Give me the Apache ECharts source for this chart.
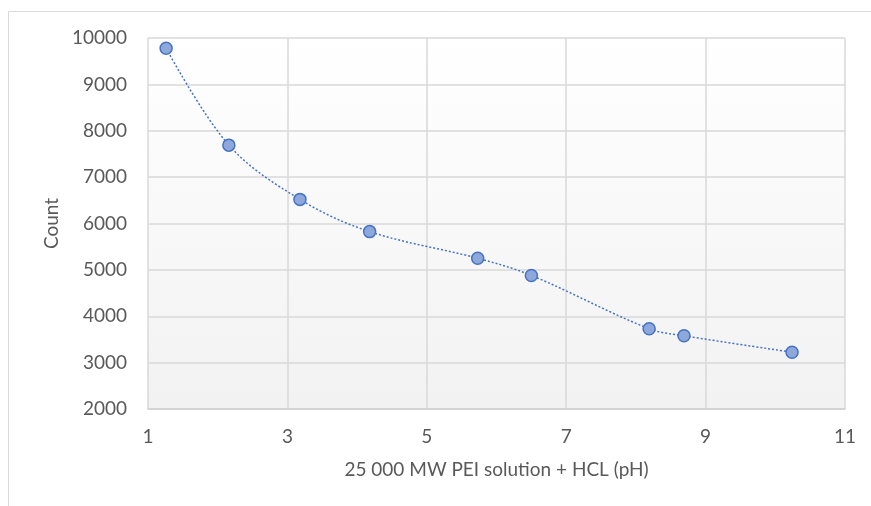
<!DOCTYPE html>
<html>
<head>
<meta charset="utf-8">
<script src="https://cdn.jsdelivr.net/npm/echarts@6/dist/echarts.min.js"></script>
<style>
html,body{margin:0;padding:0;background:#fff;}
#c{width:871px;height:506px;}
</style>
</head>
<body>
<div id="c"></div>
<script>
const phValues = [1.26, 2.16, 3.18, 4.18, 5.73, 6.5, 8.19, 8.69, 10.24];
const counts = [9780, 7690, 6520, 5825, 5250, 4880, 3730, 3580, 3225];
const xTicks = [1, 3, 5, 7, 9, 11];
const yTicks = [2000, 3000, 4000, 5000, 6000, 7000, 8000, 9000, 10000];
const xTitle = '25 000 MW PEI solution + HCL (pH)';
const yTitle = 'Count';

const chart = echarts.init(document.getElementById('c'), null, {renderer: 'canvas'});
const font = 'Lato';
const txt = '#595959';
const fs = 19;
chart.setOption({
  animation: false,
  graphic: [{
    type: 'rect', silent: true, z: -10,
    shape: {x: 8.5, y: 11.5, width: 900, height: 600},
    style: {fill: 'none', stroke: '#d9d9d9', lineWidth: 1}
  }],
  grid: {
    left: 148, right: 26, top: 38, bottom: 97,
    show: true,
    borderWidth: 0,
    backgroundColor: new echarts.graphic.LinearGradient(0, 0, 0, 1, [
      {offset: 0, color: '#ffffff'},
      {offset: 1, color: '#f2f2f2'}
    ])
  },
  xAxis: {
    type: 'value',
    min: xTicks[0], max: xTicks[xTicks.length - 1], interval: 2,
    name: xTitle, nameLocation: 'middle', nameGap: 51,
    nameTextStyle: {fontFamily: font, fontSize: fs, color: txt},
    axisLine: {show: true, lineStyle: {color: '#d0d0d0', width: 1.5}},
    axisTick: {show: false},
    axisLabel: {fontFamily: font, fontSize: fs, color: txt, margin: 18, formatter: v => String(v)},
    splitLine: {show: true, lineStyle: {color: '#d9d9d9', width: 1.5}}
  },
  yAxis: {
    type: 'value',
    min: yTicks[0], max: yTicks[yTicks.length - 1], interval: 1000,
    name: yTitle, nameLocation: 'middle', nameGap: 82, nameRotate: 90,
    nameTextStyle: {fontFamily: font, fontSize: fs, color: txt},
    axisLine: {show: false},
    axisTick: {show: false},
    axisLabel: {fontFamily: font, fontSize: fs, color: txt, margin: 21, formatter: v => String(v)},
    splitLine: {show: true, lineStyle: {color: '#d9d9d9', width: 1.5}}
  },
  series: [{
    type: 'line',
    data: phValues.map((x, i) => [x, counts[i]]),
    smooth: 0.35,
    symbol: 'circle',
    symbolSize: 12,
    lineStyle: {color: '#4472C4', width: 1.5, type: [2, 2]},
    itemStyle: {color: '#8FA8DC', borderColor: '#4472C4', borderWidth: 1.5}
  }]
});
</script>
</body>
</html>
